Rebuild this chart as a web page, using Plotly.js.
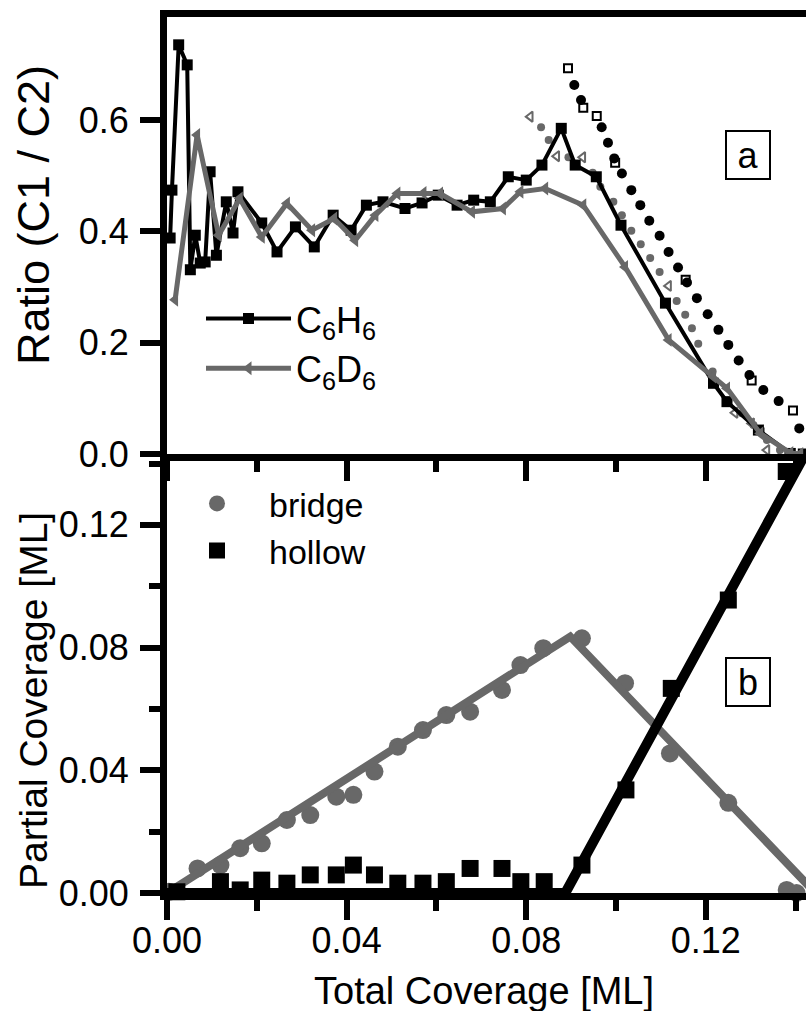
<!DOCTYPE html>
<html><head><meta charset="utf-8">
<script src="https://cdn.plot.ly/plotly-3.0.1.min.js"></script>
<style>html,body{margin:0;padding:0;background:#fff;overflow:hidden}</style>
</head><body><div id="chart" style="width:806px;height:1011px"></div>
<script>
// ---- Panel a: ratio C1/C2 vs total coverage ----
const h6X = [0.0007,0.0011,0.0026,0.0045,0.0052,0.0063,0.0074,0.0085,0.0096,0.0110,0.0132,0.0147,0.0158,0.0211,0.0245,0.0286,0.0328,0.0370,0.0410,0.0444,0.0481,0.0530,0.0568,0.0604,0.0646,0.0683,0.0720,0.0760,0.0800,0.0835,0.0878,0.0909,0.0956,0.1011,0.1110,0.1217,0.1247,0.1317,0.1388,0.1417];
const h6Y = [0.388,0.474,0.735,0.699,0.331,0.393,0.343,0.345,0.507,0.357,0.453,0.397,0.471,0.415,0.363,0.408,0.372,0.429,0.402,0.447,0.453,0.441,0.451,0.465,0.447,0.456,0.453,0.498,0.492,0.519,0.585,0.519,0.498,0.411,0.271,0.127,0.094,0.043,0.001,0.000];
const d6X = [0.0018,0.0067,0.0115,0.0162,0.0211,0.0267,0.0323,0.0372,0.0419,0.0464,0.0513,0.0571,0.0608,0.0679,0.0748,0.0787,0.0842,0.0927,0.1020,0.1117,0.1216,0.1247,0.1321,0.1388,0.1410];
const d6Y = [0.277,0.573,0.393,0.459,0.390,0.450,0.402,0.423,0.384,0.429,0.468,0.469,0.468,0.435,0.441,0.471,0.477,0.447,0.336,0.205,0.139,0.118,0.037,0.002,0.000];
// model curves / additional sets
const simH6X = [0.0907,0.0922,0.0968,0.0982,0.0996,0.1013,0.1034,0.1054,0.1074,0.1097,0.1117,0.1138,0.1158,0.1180,0.1204,0.1228,0.1250,0.1273,0.1297,0.1328,0.1362,0.1408];
const simH6Y = [0.663,0.636,0.587,0.559,0.531,0.504,0.474,0.447,0.419,0.392,0.363,0.335,0.308,0.280,0.251,0.223,0.196,0.168,0.142,0.115,0.095,0.046];
const simD6X = [0.0833,0.0850,0.0894,0.0948,0.0965,0.0994,0.1013,0.1034,0.1055,0.1076,0.1097,0.1135,0.1154,0.1169,0.1183,0.1215,0.1250,0.1280,0.1306,0.1336,0.1365];
const simD6Y = [0.587,0.564,0.533,0.505,0.480,0.453,0.429,0.401,0.377,0.352,0.327,0.275,0.250,0.226,0.198,0.148,0.096,0.073,0.052,0.025,0.007];
const openSqX = [0.0893,0.0927,0.0957,0.0998,0.1155,0.1302,0.1394];
const openSqY = [0.693,0.622,0.607,0.523,0.313,0.132,0.078];
const openTriX = [0.0809,0.0868,0.0926,0.1117,0.1265,0.1302,0.1324,0.1336,0.1372];
const openTriY = [0.606,0.535,0.533,0.302,0.074,0.055,0.038,0.007,0.002];

// ---- Panel b: partial coverage vs total coverage ----
const bridgeX = [0.0004,0.0068,0.0119,0.0163,0.0211,0.0267,0.0319,0.0377,0.0415,0.0462,0.0514,0.0570,0.0622,0.0675,0.0746,0.0787,0.0838,0.0924,0.1020,0.1120,0.1250,0.1380,0.1402];
const bridgeY = [0.0004,0.0080,0.0091,0.0146,0.0162,0.0238,0.0254,0.0314,0.0320,0.0396,0.0477,0.0531,0.0580,0.0591,0.0662,0.0743,0.0798,0.0830,0.0684,0.0455,0.0294,0.0010,0.0000];
const hollowX = [0.0022,0.0119,0.0163,0.0211,0.0267,0.0319,0.0377,0.0415,0.0462,0.0514,0.0570,0.0622,0.0675,0.0746,0.0788,0.0840,0.0924,0.1022,0.1123,0.1250,0.1379];
const hollowY = [0.0004,0.0037,0.0010,0.0042,0.0032,0.0059,0.0059,0.0091,0.0059,0.0032,0.0032,0.0037,0.0080,0.0080,0.0037,0.0037,0.0091,0.0336,0.0667,0.0955,0.1374];
const bridgeFitX = [0, 0.0898, 0.1444];
const bridgeFitY = [0, 0.0836, 0];
const hollowFitX = [0, 0.0887, 0.1432];
const hollowFitY = [0, 0, 0.1460];

const GRAY = '#686868';
const FONT = 'Liberation Sans, Arial, Helvetica, sans-serif';

const traces = [
  {x: simD6X, y: simD6Y, xaxis:'x', yaxis:'y', mode:'markers', showlegend:false, cliponaxis:false,
   marker:{symbol:'circle', size:8, color:GRAY}},
  {x: simH6X, y: simH6Y, xaxis:'x', yaxis:'y', mode:'markers', showlegend:false, cliponaxis:false,
   marker:{symbol:'circle', size:10, color:'black'}},
  {x: openSqX, y: openSqY, xaxis:'x', yaxis:'y', mode:'markers', showlegend:false, cliponaxis:false,
   marker:{symbol:'square-open', size:8, color:'black', line:{width:2}}},
  {x: openTriX, y: openTriY, xaxis:'x', yaxis:'y', mode:'markers', showlegend:false, cliponaxis:false,
   marker:{symbol:'triangle-left-open', size:9, color:GRAY, line:{width:2}}},
  {x: h6X, y: h6Y, xaxis:'x', yaxis:'y', mode:'lines+markers', name:'C<sub>6</sub>H<sub>6</sub>', legend:'legend', cliponaxis:false,
   line:{color:'black', width:4}, marker:{symbol:'square', size:11, color:'black'}},
  {x: d6X, y: d6Y, xaxis:'x', yaxis:'y', mode:'lines+markers', name:'C<sub>6</sub>D<sub>6</sub>', legend:'legend', cliponaxis:false,
   line:{color:GRAY, width:5}, marker:{symbol:'triangle-left', size:12, color:GRAY}},

  {x: bridgeX, y: bridgeY, xaxis:'x2', yaxis:'y2', mode:'markers', name:'bridge', legend:'legend2', cliponaxis:false,
   marker:{symbol:'circle', size:18, color:GRAY}},
  {x: bridgeFitX, y: bridgeFitY, xaxis:'x2', yaxis:'y2', mode:'lines', showlegend:false,
   line:{color:GRAY, width:8}},
  {x: hollowX, y: hollowY, xaxis:'x2', yaxis:'y2', mode:'markers', name:'hollow', legend:'legend2', cliponaxis:false,
   marker:{symbol:'square', size:17, color:'black'}},
  {x: hollowFitX, y: hollowFitY, xaxis:'x2', yaxis:'y2', mode:'lines', showlegend:false,
   line:{color:'black', width:10}}
];

const LW = 7, TW = 6;
const tickFont = {family: FONT, size: 36, color: 'black'};
const split = 439/876;
const px = v => (v - 167) / 639;      // page x -> paper x
const py = v => (893 - v) / 876;      // page y -> paper y
const XR = [0, 0.1423];

const layout = {
  width: 806, height: 1011,
  margin: {l:167, r:0, t:17, b:118, pad:0},
  paper_bgcolor:'white', plot_bgcolor:'white',
  font: {family: FONT, color:'black'},
  xaxis: {domain:[0,1], anchor:'y', range:XR, showline:true, linewidth:LW, linecolor:'black', mirror:true,
    showgrid:false, zeroline:false, ticks:'outside', ticklen:20, tickwidth:TW, tickcolor:'black',
    tick0:0, dtick:0.04, showticklabels:false,
    minor:{dtick:0.02, ticks:'outside', ticklen:11, tickwidth:TW, tickcolor:'black', showgrid:false}},
  yaxis: {domain:[split,1], anchor:'x', range:[0,0.785], showline:true, linewidth:LW, linecolor:'black',
    showgrid:false, zeroline:false, ticks:'outside', ticklen:20, tickwidth:TW, tickcolor:'black',
    tick0:0, dtick:0.2, tickformat:'.1f', tickfont:tickFont, ticklabelstandoff:4},
  xaxis2: {domain:[0,1], anchor:'y2', range:XR, showline:true, linewidth:LW, linecolor:'black',
    showgrid:false, zeroline:false, ticks:'outside', ticklen:20, tickwidth:TW, tickcolor:'black',
    tick0:0, dtick:0.04, tickformat:'.2f', tickfont:tickFont, ticklabelstandoff:-10,
    minor:{dtick:0.02, ticks:'outside', ticklen:11, tickwidth:TW, tickcolor:'black', showgrid:false}},
  yaxis2: {domain:[0,split], anchor:'x2', range:[0,0.1431], showline:true, linewidth:LW, linecolor:'black',
    showgrid:false, zeroline:false, ticks:'outside', ticklen:20, tickwidth:TW, tickcolor:'black',
    tick0:0, dtick:0.04, tickformat:'.2f', tickfont:tickFont, ticklabelstandoff:4,
    minor:{dtick:0.02, ticks:'outside', ticklen:11, tickwidth:TW, tickcolor:'black', showgrid:false}},
  legend: {x:px(201), y:0.69, xanchor:'left', yanchor:'top', bgcolor:'rgba(0,0,0,0)', borderwidth:0,
    font:{family:FONT, size:36, color:'black'}, itemwidth:85, tracegroupgap:0},
  legend2: {x:px(165), y:0.4774, xanchor:'left', yanchor:'top', bgcolor:'rgba(0,0,0,0)', borderwidth:0,
    font:{family:FONT, size:34, color:'black'}, itemwidth:94, tracegroupgap:0},
  annotations: [
    {xref:'paper', yref:'paper', x:px(748), y:py(155), text:'a', showarrow:false,
     font:{family:FONT, size:36, color:'black'}, bordercolor:'black', borderwidth:2, borderpad:0, width:42, height:46, xanchor:'center', yanchor:'middle'},
    {xref:'paper', yref:'paper', x:px(748), y:py(682), text:'b', showarrow:false,
     font:{family:FONT, size:36, color:'black'}, bordercolor:'black', borderwidth:2, borderpad:0, width:42, height:46, xanchor:'center', yanchor:'middle'},
    {xref:'paper', yref:'paper', x:px(33), y:py(215), text:'Ratio (C1 / C2)', textangle:-90, showarrow:false,
     font:{family:FONT, size:45, color:'black'}, xanchor:'center', yanchor:'middle'},
    {xref:'paper', yref:'paper', x:px(33), y:py(701), text:'Partial Coverage [ML]', textangle:-90, showarrow:false,
     font:{family:FONT, size:39, color:'black'}, xanchor:'center', yanchor:'middle'},
    {xref:'paper', yref:'paper', x:px(484), y:py(991), text:'Total Coverage [ML]', showarrow:false,
     font:{family:FONT, size:38, color:'black'}, xanchor:'center', yanchor:'middle'}
  ],
  showlegend: true
};

Plotly.newPlot('chart', traces, layout, {displayModeBar:false, staticPlot:true});
</script></body></html>
